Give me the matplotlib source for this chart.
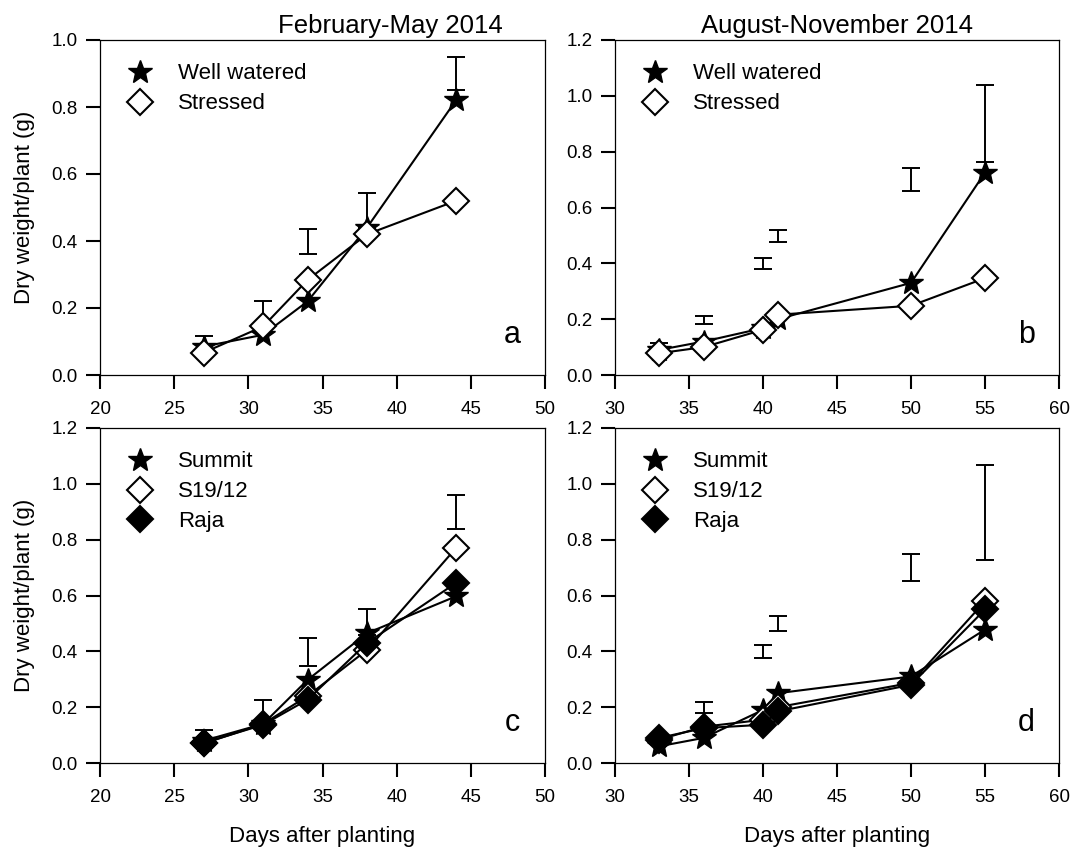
import matplotlib
matplotlib.use("Agg")
import matplotlib.pyplot as plt
from matplotlib.lines import Line2D
import numpy as np

plt.rcParams['font.family'] = ['Liberation Sans', 'DejaVu Sans']

# Sampling days
days_feb = [27, 31, 34, 38, 44]
days_aug = [33, 36, 40, 41, 50, 55]

# (a) February-May, watering treatment
a_well = [0.085, 0.12, 0.22, 0.44, 0.82]
a_stress = [0.067, 0.145, 0.284, 0.42, 0.52]
a_err_lo = [0.09, 0.14, 0.36, 0.44, 0.85]
a_err_hi = [0.115, 0.222, 0.437, 0.544, 0.95]

# (b) August-November, watering treatment
b_well = [0.09, 0.12, 0.168, 0.20, 0.33, 0.725]
b_stress = [0.078, 0.10, 0.162, 0.216, 0.248, 0.347]
b_err_lo = [0.085, 0.183, 0.38, 0.478, 0.659, 0.763]
b_err_hi = [0.114, 0.212, 0.418, 0.521, 0.74, 1.038]

# (c) February-May, cultivars
c_summit = [0.08, 0.14, 0.298, 0.465, 0.597]
c_s1912 = [0.07, 0.14, 0.24, 0.405, 0.77]
c_raja = [0.072, 0.137, 0.227, 0.43, 0.645]
c_err_lo = [0.08, 0.14, 0.348, 0.46, 0.839]
c_err_hi = [0.119, 0.227, 0.448, 0.552, 0.961]

# (d) August-November, cultivars
d_summit = [0.06, 0.09, 0.19, 0.25, 0.31, 0.478]
d_s1912 = [0.084, 0.13, 0.155, 0.20, 0.287, 0.579]
d_raja = [0.09, 0.125, 0.137, 0.185, 0.28, 0.55]
d_err_lo = [0.085, 0.179, 0.376, 0.474, 0.651, 0.728]
d_err_hi = [0.105, 0.217, 0.424, 0.528, 0.75, 1.069]

W, H = 1072, 852
fig = plt.figure(figsize=(W / 100, H / 100), dpi=100)


def px_axes(left, top, right, bottom):
    return fig.add_axes([left / W, (H - bottom) / H, (right - left) / W, (bottom - top) / H])


ax_a = px_axes(100, 40, 545, 375)
ax_b = px_axes(615, 40, 1059, 375)
ax_c = px_axes(100, 428, 545, 763)
ax_d = px_axes(615, 428, 1059, 763)

STAR = dict(marker='*', ms=18, mfc='k', mec='k', mew=1.0)
OPEN_D = dict(marker='D', ms=13, mfc='white', mec='k', mew=1.5)
FILL_D = dict(marker='D', ms=13, mfc='k', mec='k', mew=1.5)


def draw_errors(ax, x, lo, hi):
    lo = np.asarray(lo)
    hi = np.asarray(hi)
    ax.errorbar(x, (lo + hi) / 2, yerr=(hi - lo) / 2, fmt='none', ecolor='k',
                elinewidth=1.4, capsize=6.5, capthick=1.4, zorder=1)


def draw_series(ax, x, y, style, z):
    ax.plot(x, y, color='k', lw=1.5, zorder=z, **style)


def style_axes(ax, xlim, xticks, ylim, yticks, letter):
    ax.set_xlim(*xlim)
    ax.set_ylim(*ylim)
    ax.set_xticks(xticks)
    ax.set_yticks(yticks)
    ax.set_yticklabels([f"{v:.1f}" for v in yticks])
    for s in ax.spines.values():
        s.set_linewidth(0.9)
    ax.tick_params(axis='both', direction='out', length=10, width=1.5,
                   labelsize=13.5, top=False, right=False)
    ax.tick_params(axis='x', pad=9)
    ax.tick_params(axis='y', pad=6)
    ax.text(0.926, 0.096, letter, transform=ax.transAxes, ha='center',
            va='baseline', fontsize=22)


def add_legend(ax, entries):
    handles = [Line2D([], [], ls='none', **st) for st, _ in entries]
    labels = [lab for _, lab in entries]
    ax.legend(handles, labels, loc='upper left', bbox_to_anchor=(0.065, 0.93),
              frameon=False, fontsize=16, handlelength=1.0, handletextpad=1.2,
              labelspacing=0.4, borderpad=0, borderaxespad=0)


# Panel a
draw_errors(ax_a, days_feb, a_err_lo, a_err_hi)
draw_series(ax_a, days_feb, a_well, STAR, 2)
draw_series(ax_a, days_feb, a_stress, OPEN_D, 3)
style_axes(ax_a, (20, 50), range(20, 51, 5), (0, 1.0), np.arange(0, 1.01, 0.2), 'a')
add_legend(ax_a, [(STAR, 'Well watered'), (OPEN_D, 'Stressed')])

# Panel b
draw_errors(ax_b, days_aug, b_err_lo, b_err_hi)
draw_series(ax_b, days_aug, b_well, STAR, 2)
draw_series(ax_b, days_aug, b_stress, OPEN_D, 3)
style_axes(ax_b, (30, 60), range(30, 61, 5), (0, 1.2), np.arange(0, 1.21, 0.2), 'b')
add_legend(ax_b, [(STAR, 'Well watered'), (OPEN_D, 'Stressed')])

# Panel c
draw_errors(ax_c, days_feb, c_err_lo, c_err_hi)
draw_series(ax_c, days_feb, c_summit, STAR, 2)
draw_series(ax_c, days_feb, c_s1912, OPEN_D, 3)
draw_series(ax_c, days_feb, c_raja, FILL_D, 4)
style_axes(ax_c, (20, 50), range(20, 51, 5), (0, 1.2), np.arange(0, 1.21, 0.2), 'c')
add_legend(ax_c, [(STAR, 'Summit'), (OPEN_D, 'S19/12'), (FILL_D, 'Raja')])

# Panel d
draw_errors(ax_d, days_aug, d_err_lo, d_err_hi)
draw_series(ax_d, days_aug, d_summit, STAR, 2)
draw_series(ax_d, days_aug, d_s1912, OPEN_D, 3)
draw_series(ax_d, days_aug, d_raja, FILL_D, 4)
style_axes(ax_d, (30, 60), range(30, 61, 5), (0, 1.2), np.arange(0, 1.21, 0.2), 'd')
add_legend(ax_d, [(STAR, 'Summit'), (OPEN_D, 'S19/12'), (FILL_D, 'Raja')])

# Season titles, axis labels
fig.text(390 / W, 1 - 33 / H, 'February-May 2014', ha='center', va='baseline', fontsize=18.5)
fig.text(837 / W, 1 - 33 / H, 'August-November 2014', ha='center', va='baseline', fontsize=18.5)

for ax in (ax_a, ax_c):
    ax.set_ylabel('Dry weight/plant (g)', fontsize=16, labelpad=12)
for ax in (ax_c, ax_d):
    ax.set_xlabel('Days after planting', fontsize=16, labelpad=14)

fig.savefig('out.png', dpi=100)
